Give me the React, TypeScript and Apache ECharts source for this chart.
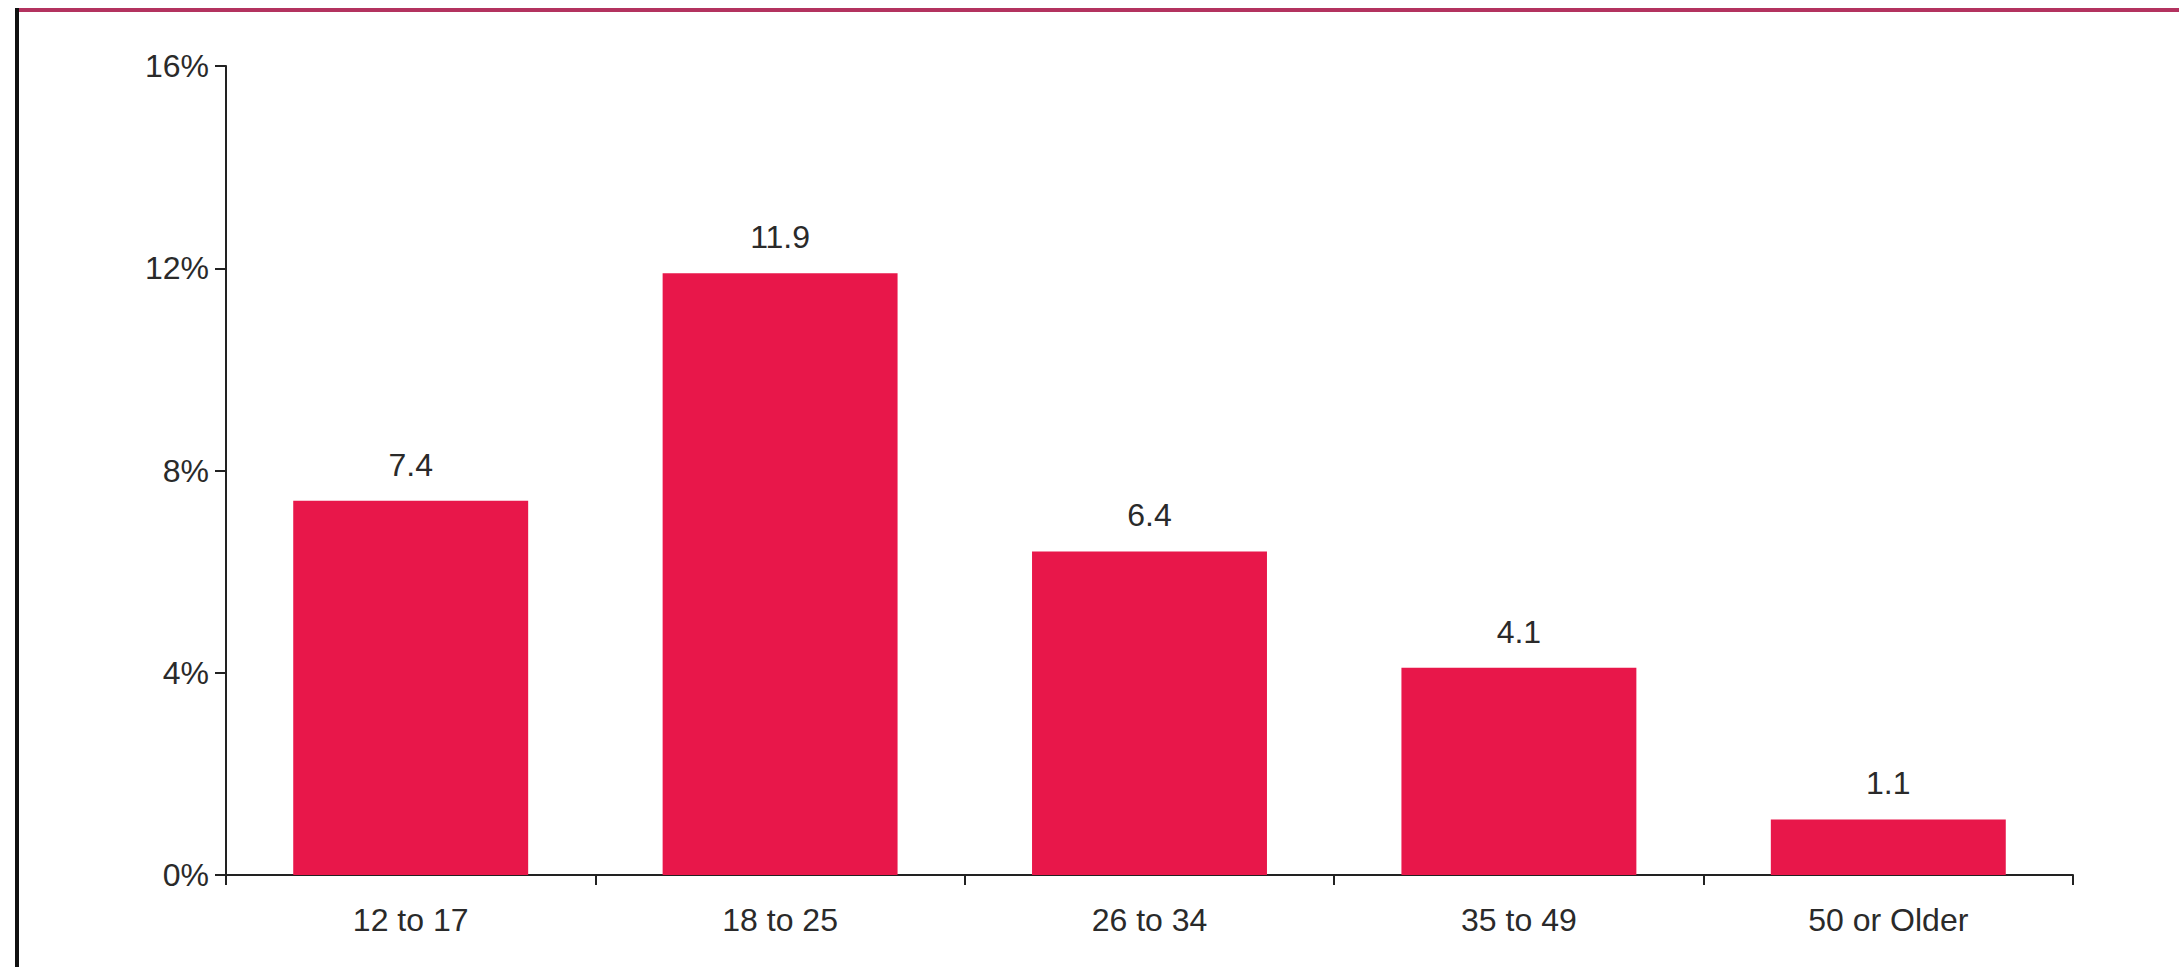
import React, { useEffect, useRef } from "react";
import * as echarts from "echarts";

const categories = ["12 to 17", "18 to 25", "26 to 34", "35 to 49", "50 or Older"];
const values = [7.4, 11.9, 6.4, 4.1, 1.1];
const yTicks = [0, 4, 8, 12, 16];

export default function App() {
  const ref = useRef<HTMLDivElement>(null);
  useEffect(() => {
    if (!ref.current) return;
    const chart = echarts.init(ref.current, undefined, { renderer: "svg" });
    chart.setOption({
      animation: false,
      backgroundColor: "#ffffff",
      textStyle: { fontFamily: "Liberation Sans, Arial, sans-serif" },
      grid: { left: 226, right: 106, top: 66, bottom: 92, containLabel: false },
      xAxis: {
        type: "category",
        data: categories,
        boundaryGap: true,
        axisLine: { show: true, lineStyle: { color: "#222", width: 2 } },
        axisTick: { show: true, length: 10, lineStyle: { color: "#222", width: 2 } },
        axisLabel: { color: "#2a2a2a", fontSize: 32, margin: 29, fontFamily: "Liberation Sans" },
        splitLine: { show: false },
      },
      yAxis: {
        type: "value",
        min: yTicks[0],
        max: yTicks[yTicks.length - 1],
        interval: 4,
        axisLine: { show: true, lineStyle: { color: "#222", width: 2 } },
        axisTick: { show: true, length: 11, lineStyle: { color: "#222", width: 2 } },
        axisLabel: { color: "#2a2a2a", fontSize: 32, margin: 17, formatter: "{value}%", fontFamily: "Liberation Sans" },
        splitLine: { show: false },
      },
      series: [
        {
          type: "bar",
          data: values,
          barWidth: "63.6%",
          itemStyle: { color: "#E8174A" },
          label: {
            show: true,
            position: "top",
            distance: 20,
            color: "#2a2a2a",
            fontSize: 32,
            fontFamily: "Liberation Sans",
            formatter: (p: any) => p.value.toFixed(1),
          },
        },
      ],
      graphic: [
        { type: "line", shape: { x1: 16, y1: 10, x2: 2179, y2: 10 }, style: { stroke: "#b3325f", lineWidth: 4 } },
        { type: "line", shape: { x1: 17, y1: 8, x2: 17, y2: 967 }, style: { stroke: "#111", lineWidth: 4 } },
      ],
    });
    return () => chart.dispose();
  }, []);
  return <div ref={ref} style={{ position: "fixed", left: 0, top: 0, width: 2179, height: 967 }} />;
}
